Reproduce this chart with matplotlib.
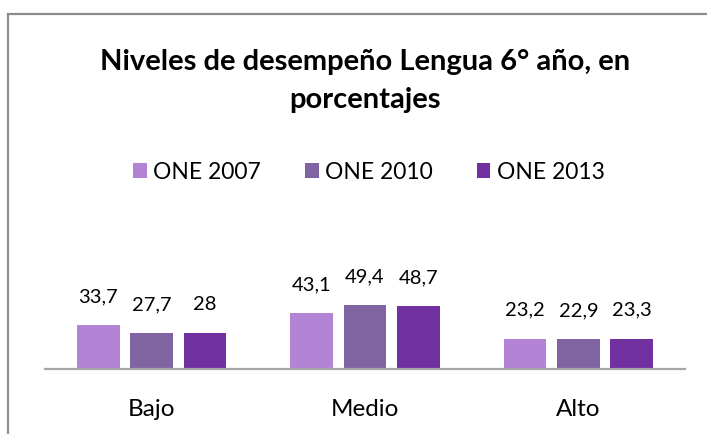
import matplotlib
matplotlib.use('Agg')
import matplotlib.pyplot as plt
from matplotlib.patches import Rectangle
import numpy as np

plt.rcParams['font.family'] = ['Lato', 'DejaVu Sans']

categories = ['Bajo', 'Medio', 'Alto']
series_names = ['ONE 2007', 'ONE 2010', 'ONE 2013']
values_2007 = [33.7, 43.1, 23.2]
values_2010 = [27.7, 49.4, 22.9]
values_2013 = [28.0, 48.7, 23.3]
colors = ['#B383D6', '#8064A2', '#7030A0']

W, H = 707, 434
fig = plt.figure(figsize=(W / 100, H / 100), dpi=100)

# chart frame (cut off on the right and bottom)
fig.add_artist(Rectangle((8 / W, -0.1), 1.2, (H - 14) / H + 0.1,
                         transform=fig.transFigure, fill=False,
                         edgecolor='#8C8C8C', linewidth=1.6))

ax = fig.add_axes([45 / W, (H - 368.5) / H, 640 / W, 168.5 / H])

x = np.arange(len(categories))
width = 0.2
offsets = [-0.25, 0.0, 0.25]
all_values = [values_2007, values_2010, values_2013]

for vals, off, col, name in zip(all_values, offsets, colors, series_names):
    bars = ax.bar(x + off, vals, width, color=col, label=name)
    for b, v in zip(bars, vals):
        txt = f'{v:g}'.replace('.', ',')
        ax.annotate(txt, (b.get_x() + b.get_width() / 2, v),
                    xytext=(0, 20.5), textcoords='offset points',
                    ha='center', va='center', fontsize=14.5)

ax.set_xlim(-0.5, 2.5)
ax.set_ylim(0, 168.5 / 1.28)
ax.set_yticks([])
ax.set_xticks(x)
ax.set_xticklabels(categories, fontsize=17.5)
ax.tick_params(axis='x', length=0, pad=22)
for s in ['top', 'right', 'left']:
    ax.spines[s].set_visible(False)
ax.spines['bottom'].set_color('#A6A6A6')
ax.spines['bottom'].set_linewidth(1.6)

fig.text(365 / W, 1 - 62 / H, 'Niveles de desempeño Lengua 6° año, en',
         ha='center', va='center', fontsize=21, fontweight='bold')
fig.text(365 / W, 1 - 100 / H, 'porcentajes',
         ha='center', va='center', fontsize=21, fontweight='bold')

fig.legend(loc='center', bbox_to_anchor=(369 / W, 1 - 172 / H), ncol=3,
           frameon=False, fontsize=16.5, handlelength=0.6, handleheight=0.6,
           handletextpad=0.3, columnspacing=1.9)

fig.savefig('out.png', dpi=100)
